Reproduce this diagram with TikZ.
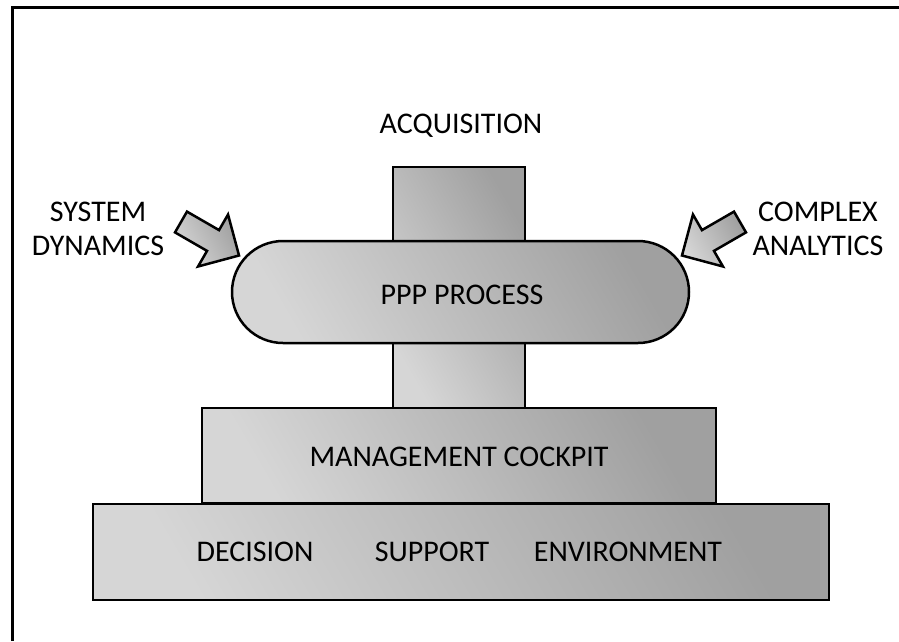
\documentclass[tikz,border=0pt]{standalone}
\usepackage{fontspec}
\setmainfont{Carlito}
\usepackage{tikz}
\usetikzlibrary{calc}

\definecolor{shadelight}{RGB}{214,214,214}
\definecolor{shadedark}{RGB}{160,160,160}

\tikzset{
	block/.style={draw=black, line width=2.5pt, top color=shadedark, bottom color=shadelight, shading angle=-60, inner sep=0pt},
	label/.style={text=black, font=\fontsize{30}{34}\selectfont, align=center, inner sep=0pt},
	fatarrow/.pic={\draw[block, line join=miter] (0,-12) -- (37,-12) -- (37,-30) -- (67,0) -- (37,30) -- (37,12) -- (0,12) -- cycle;}
}

\begin{document}
\begin{tikzpicture}[x=1pt, y=-1pt]
	
	\useasboundingbox (0,0) rectangle (899,641);
	
	% Rahmen
	\draw[black, line width=3pt] (12,641) -- (12,7) -- (899,7);
	
	% Saeule und Prozess
	\node[block, minimum width=132pt, minimum height=241pt](bar) at (459,287.5) {};
	\node[block, rounded corners=51pt, minimum width=457pt, minimum height=102pt](ppp) at (460.5,292) {};
	\node[label](ppp_text) at (462,295) {PPP PROCESS};
	
	% Ebenen
	\node[block, minimum width=514pt, minimum height=95pt](mc) at (459,455.5) {};
	\node[label](mc_text) at (459,457) {MANAGEMENT COCKPIT};
	
	\node[block, minimum width=736pt, minimum height=96pt](dse) at (461,552) {};
	\node[label](decision) at (255,552) {DECISION};
	\node[label](support) at (432,552) {SUPPORT};
	\node[label](environment) at (628,552) {ENVIRONMENT};
	
	% Beschriftungen oben
	\node[label](acq) at (461,126) {ACQUISITION};
	\node[label](sd) at (98,229) {SYSTEM\\DYNAMICS};
	\node[label](ca) at (818,229) {COMPLEX\\ANALYTICS};
	
	% Pfeile
	\pic[rotate=-30] at (181,222) {fatarrow};
	\pic[rotate=210] at (740,222) {fatarrow};
\end{tikzpicture}
\end{document}
